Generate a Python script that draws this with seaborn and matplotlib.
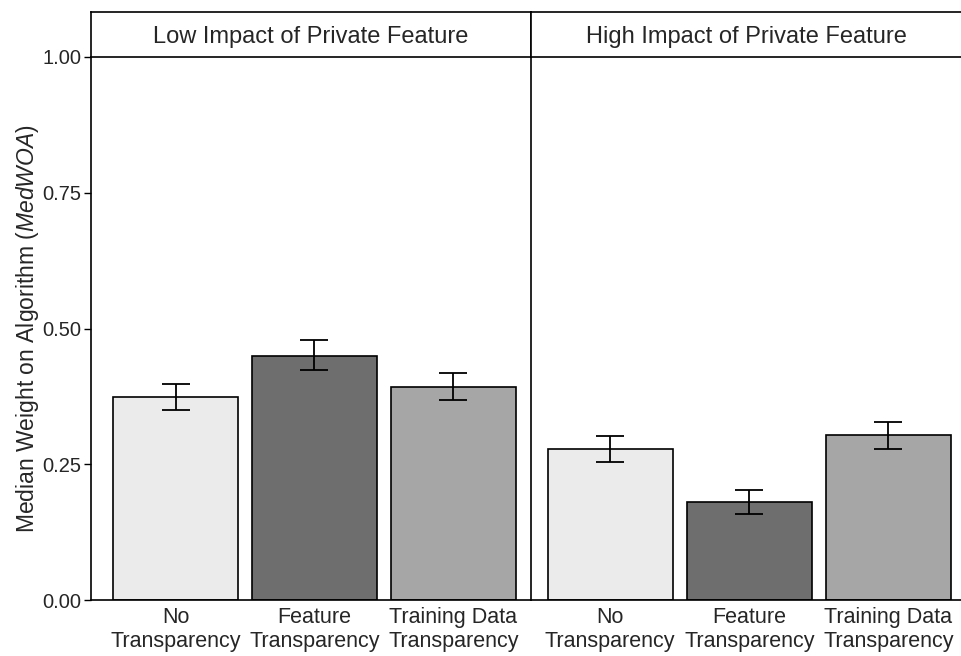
import numpy as np
import pandas as pd
import matplotlib
matplotlib.use('Agg')
import matplotlib.pyplot as plt
import seaborn as sns

# ---- data ----
panels = ['Low Impact of Private Feature', 'High Impact of Private Feature']
conditions = ['No\nTransparency', 'Feature\nTransparency', 'Training Data\nTransparency']
low_median = [0.374, 0.450, 0.393]
low_err_lo = [0.350, 0.423, 0.369]
low_err_hi = [0.398, 0.478, 0.418]
high_median = [0.279, 0.181, 0.304]
high_err_lo = [0.255, 0.159, 0.279]
high_err_hi = [0.302, 0.203, 0.328]
y_ticks = [0.00, 0.25, 0.50, 0.75, 1.00]

bar_colors = ['#EBEBEB', '#6E6E6E', '#A6A6A6']

sns.set_theme(style='white')
plt.rcParams['font.family'] = ['Liberation Sans', 'DejaVu Sans']
plt.rcParams['mathtext.fontset'] = 'custom'
plt.rcParams['mathtext.rm'] = 'Liberation Sans'
plt.rcParams['mathtext.it'] = 'Liberation Sans:italic'

W, H = 962, 656
fig = plt.figure(figsize=(W / 100, H / 100), dpi=100)


def px_axes(x0, x1, y0, y1):
    return fig.add_axes([x0 / W, 1 - y1 / H, (x1 - x0) / W, (y1 - y0) / H])


layout = [(91, 531, (-0.61, 2.56)), (531, 962, (-0.57, 2.53))]
series = [(low_median, low_err_lo, low_err_hi), (high_median, high_err_lo, high_err_hi)]

for i, (title, (x0, x1, xlim), (med, lo, hi)) in enumerate(zip(panels, layout, series)):
    ax = px_axes(x0, x1, 57, 600)
    df = pd.DataFrame({'condition': conditions, 'median': med})
    sns.barplot(data=df, x='condition', y='median', hue='condition',
                palette=bar_colors, order=conditions, hue_order=conditions,
                width=0.9, edgecolor='black', linewidth=1.2, legend=False, ax=ax)
    med = np.array(med)
    yerr = np.vstack([med - np.array(lo), np.array(hi) - med])
    ax.errorbar(np.arange(len(conditions)), med, yerr=yerr, fmt='none',
                ecolor='black', elinewidth=1.3, capsize=10, capthick=1.3, zorder=5)
    ax.set_xlim(*xlim)
    ax.set_ylim(0, 1)
    ax.set_xlabel('')
    ax.set_ylabel('')
    ax.tick_params(axis='x', length=0, labelsize=15.5, pad=5)
    for s in ['top', 'right']:
        ax.spines[s].set_visible(False)
    ax.spines['left'].set_color('black')
    ax.spines['bottom'].set_color('black')
    ax.spines['left'].set_linewidth(1.2)
    ax.spines['bottom'].set_linewidth(1.2)
    if i == 0:
        ax.set_yticks(y_ticks)
        ax.set_yticklabels([f'{t:.2f}' for t in y_ticks])
        ax.tick_params(axis='y', left=True, length=5, width=1, color='black',
                       labelsize=14.5, pad=2)
        ax.set_ylabel('Median Weight on Algorithm ($\\it{MedWOA}$)', fontsize=16.5, labelpad=1)
    else:
        ax.set_yticks([])

    # facet strip
    strip = px_axes(x0, x1, 12, 57)
    strip.set_xticks([])
    strip.set_yticks([])
    strip.set_facecolor('white')
    for s in strip.spines.values():
        s.set_color('black')
        s.set_linewidth(1.2)
    strip.text(0.5, 0.45, title, ha='center', va='center', fontsize=17,
               transform=strip.transAxes)

fig.savefig('out.png', dpi=100)
